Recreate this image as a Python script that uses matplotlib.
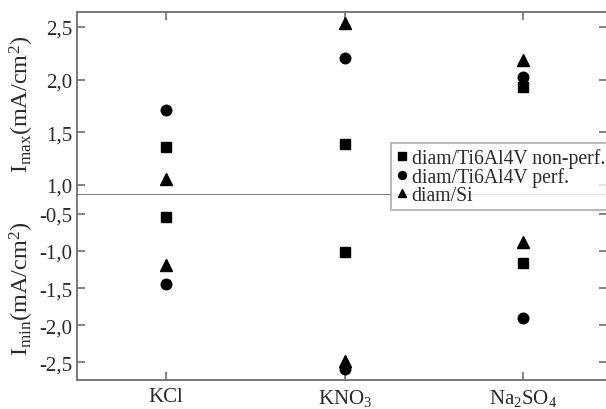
import matplotlib
matplotlib.use("Agg")
import matplotlib.pyplot as plt
from matplotlib.ticker import FuncFormatter
import numpy as np

plt.rcParams['font.family'] = ['Liberation Serif', 'DejaVu Serif']
plt.rcParams['mathtext.fontset'] = 'custom'
plt.rcParams['mathtext.rm'] = 'Liberation Serif'
plt.rcParams['mathtext.it'] = 'Liberation Serif:italic'
plt.rcParams['mathtext.bf'] = 'Liberation Serif:bold'

# categories (electrolytes)
categories = ['KCl', r'KNO$_3$', r'Na$_2$SO$_4$']

# series labels
series = ['diam/Ti6Al4V non-perf.', 'diam/Ti6Al4V perf.', 'diam/Si']

# Imax values (mA/cm2)
imax_nonperf = [1.36, 1.39, 1.93]
imax_perf = [1.71, 2.20, 2.02]
imax_si = [1.06, 2.54, 2.19]

# Imin values (mA/cm2)
imin_nonperf = [-0.54, -1.01, -1.16]
imin_perf = [-1.45, -2.59, -1.91]
imin_si = [-1.19, -2.49, -0.88]

top_ticks = [1.0, 1.5, 2.0, 2.5]
bottom_ticks = [-0.5, -1.0, -1.5, -2.0, -2.5]

spine_col = '#6e6e6e'
text_col = '#2a2a2a'

fig = plt.figure(figsize=(6.06, 4.10), dpi=100)
ax_top = fig.add_axes([0.127, 0.522, 0.875, 0.446])
ax_bot = fig.add_axes([0.127, 0.071, 0.875, 0.451])

x = np.arange(len(categories))
markers = ['s', 'o', '^']
top_data = [imax_nonperf, imax_perf, imax_si]
bot_data = [imin_nonperf, imin_perf, imin_si]
sizes = [7.2, 7.6, 8.2]

handles = []
for m, s, d_top, d_bot, lab in zip(markers, sizes, top_data, bot_data, series):
    h, = ax_top.plot(x, d_top, linestyle='none', marker=m, markersize=s,
                     color='black', label=lab)
    ax_bot.plot(x, d_bot, linestyle='none', marker=m, markersize=s,
                color='black')
    handles.append(h)

fmt = FuncFormatter(lambda v, p: f'{v:.1f}'.replace('.', ','))

for ax in (ax_top, ax_bot):
    ax.set_xlim(-0.5, 2.47)
    ax.set_xticks(x)
    for sp in ax.spines.values():
        sp.set_color(spine_col)
        sp.set_linewidth(1.3)
    ax.spines['right'].set_visible(False)
    ax.tick_params(axis='both', direction='in', length=6, width=1.2,
                   color=spine_col, labelsize=15, labelcolor=text_col,
                   right=True)
    ax.yaxis.set_major_formatter(fmt)

ax_top.set_ylim(0.905, 2.64)
ax_top.set_yticks(top_ticks)
ax_top.tick_params(axis='x', top=True, bottom=False, labelbottom=False)

ax_bot.set_ylim(-2.74, -0.243)
ax_bot.set_yticks(bottom_ticks)
ax_bot.set_xticklabels(categories)
ax_bot.tick_params(axis='x', top=False, bottom=True, pad=5)
ax_bot.spines['top'].set_visible(False)

ax_top.set_ylabel(r'I$_{\rm max}$(mA/cm$^2$)', fontsize=17.5, color=text_col)
ax_bot.set_ylabel(r'I$_{\rm min}$(mA/cm$^2$)', fontsize=17.5, color=text_col)
ax_top.yaxis.set_label_coords(-0.078, 0.5)
ax_bot.yaxis.set_label_coords(-0.078, 0.5)

leg = fig.legend(handles=handles, loc='upper left',
                 bbox_to_anchor=(0.645, 0.648), fontsize=14.2,
                 frameon=True, fancybox=False, markerscale=0.75,
                 handlelength=0.6, handletextpad=0.2, labelspacing=-0.05,
                 borderpad=0.25, borderaxespad=0)
leg.get_frame().set_edgecolor('#9a9a9a')
leg.get_frame().set_linewidth(1.2)
for t in leg.get_texts():
    t.set_color(text_col)

fig.savefig('out.png', dpi=100)
